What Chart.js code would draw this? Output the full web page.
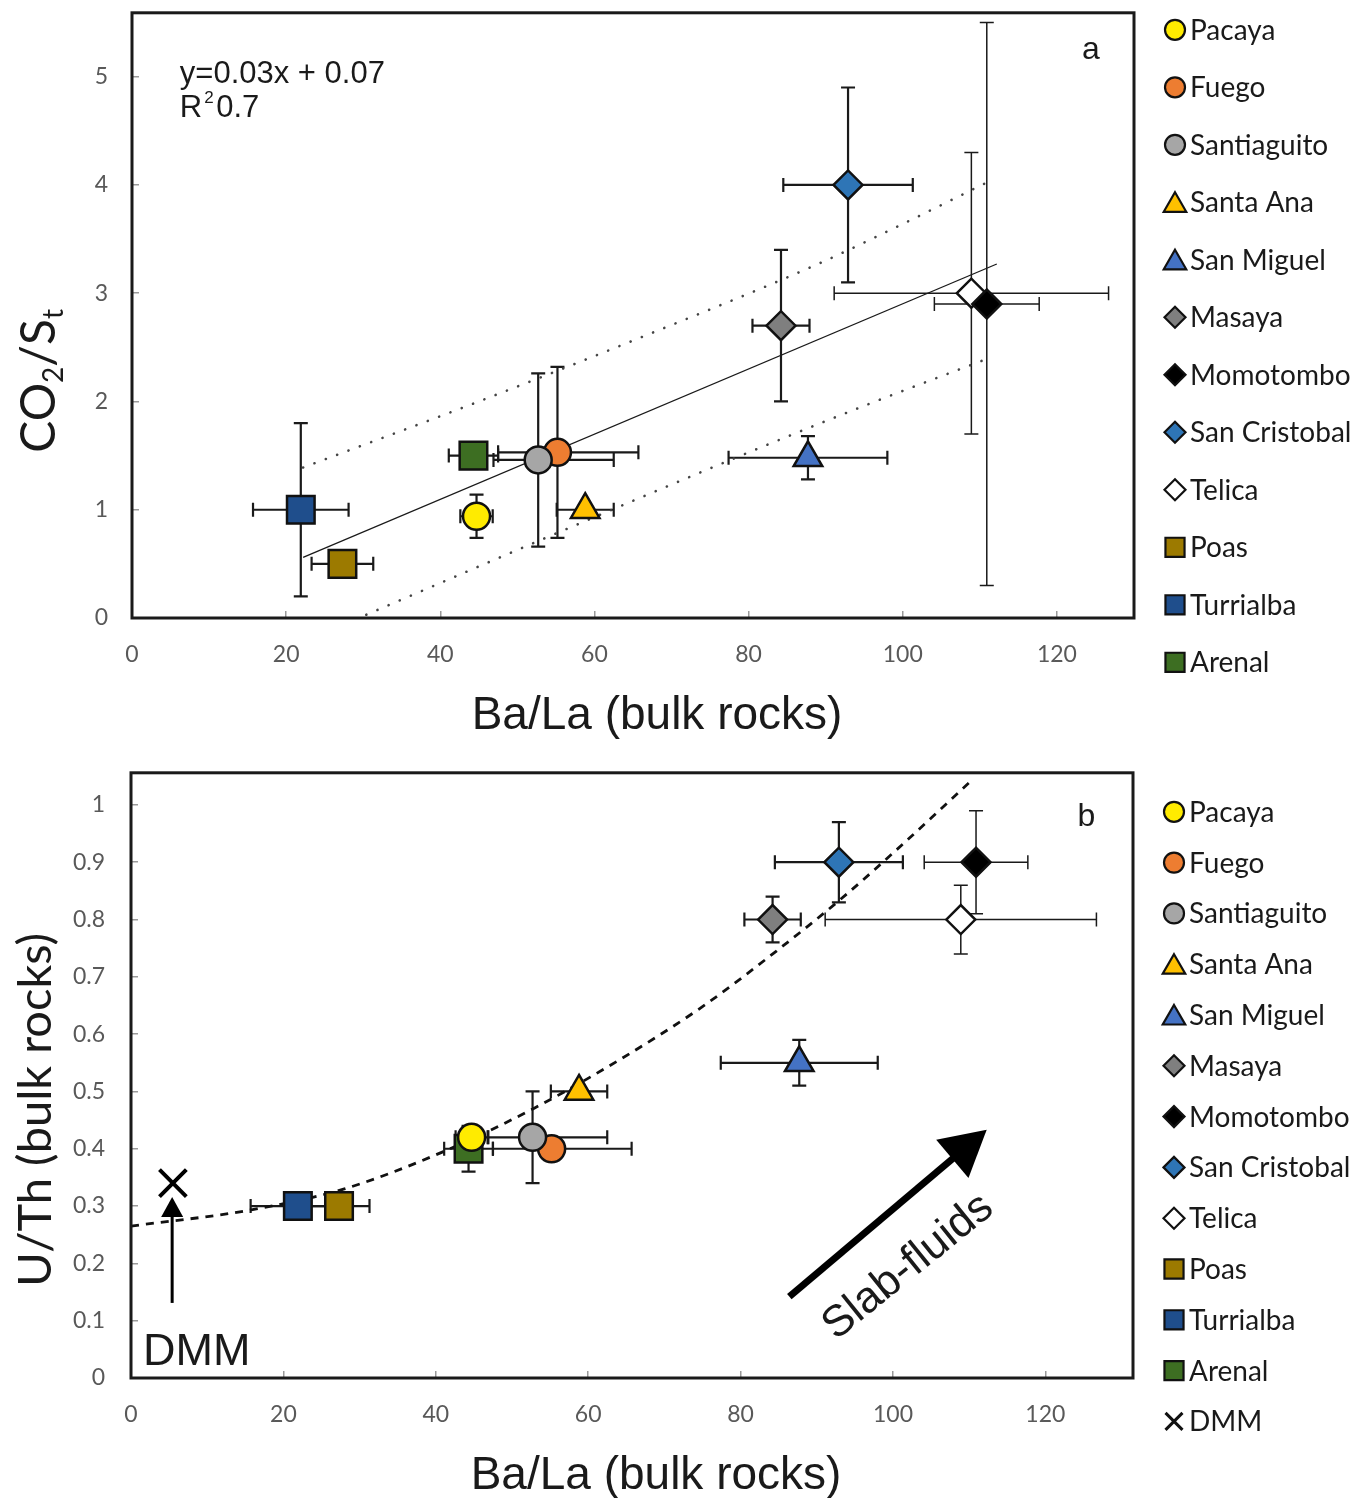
<!DOCTYPE html>
<html><head><meta charset="utf-8">
<script src="https://cdn.jsdelivr.net/npm/chart.js@4.4.1/dist/chart.umd.min.js"></script>
<style>
html,body{margin:0;padding:0;background:#fff;width:1359px;height:1498px;overflow:hidden;position:relative}
#wa{position:absolute;left:0;top:-32px;width:1359px;height:782px}
#wb{position:absolute;left:0;top:726px;width:1359px;height:772px}
</style></head><body>
<div id="wa"><canvas id="ca"></canvas></div>
<div id="wb"><canvas id="cb"></canvas></div>
<script>
// ---------------- data ----------------
const volcanoes   = ['Pacaya','Fuego','Santiaguito','Santa Ana','San Miguel','Masaya','Momotombo','San Cristobal','Telica','Poas','Turrialba','Arenal'];
const markerShapes = ['circle','circle','circle','triangle','triangle','rectRot','rectRot','rectRot','rectRot','rect','rect','rect'];
const markerColors = ['#FFEB00','#ED7D31','#A6A6A6','#FFC000','#4472C4','#7F7F7F','#000000','#2E75B6','#FFFFFF','#9C7A00','#1F4E8C','#3D6E22'];
const baLa        = [44.7, 55.2, 52.7, 58.8, 87.7, 84.2, 110.9, 92.9, 108.9, 27.3, 21.9, 44.3];
const baLaErrLow  = [2.1, 7.7, 5.8, 3.7, 10.3, 3.7, 6.8, 8.4, 17.8, 4.0, 6.2, 3.2];
const baLaErrHigh = [2.1, 10.5, 9.8, 3.7, 10.3, 3.7, 6.8, 8.4, 17.8, 4.0, 6.2, 3.2];
const co2St       = [0.94, 1.53, 1.46, 1.0, 1.48, 2.7, 2.9, 4.0, 3.0, 0.5, 1.0, 1.5];
const co2StErr    = [0.2, 0.79, 0.8, 0, 0.2, 0.7, 2.6, 0.9, 1.3, 0, 0.8, 0];
const uTh         = [0.42, 0.40, 0.42, 0.50, 0.55, 0.80, 0.90, 0.90, 0.80, 0.30, 0.30, 0.40];
const uThErr      = [0, 0, 0.08, 0, 0.04, 0.04, 0.09, 0.07, 0.06, 0, 0, 0.04];
const dmmLabel    = 'DMM';
const dmmPoint    = [5.5, 0.34];

const trendBaLa      = [22.2, 112.2];
const trendCo2St     = [0.56, 3.27];
const upperBandBaLa  = [22.2, 45, 67, 89, 100, 111.4];
const upperBandCo2St = [1.39, 2.0, 2.62, 3.27, 3.64, 4.04];
const lowerBandBaLa  = [30.4, 54, 79, 95, 110.8];
const lowerBandCo2St = [0.03, 0.75, 1.5, 1.96, 2.39];
const curveBaLa      = [0, 15.6, 28, 41, 52.8, 64.2, 75, 84.8, 93.1, 100.5, 110.1];
const curveUTh       = [0.265, 0.293, 0.33, 0.395, 0.47, 0.556, 0.648, 0.746, 0.835, 0.922, 1.04];

const xTicks  = [0, 20, 40, 60, 80, 100, 120];
const yTicksA = [0, 1, 2, 3, 4, 5];
const yTicksB = [0, 0.1, 0.2, 0.3, 0.4, 0.5, 0.6, 0.7, 0.8, 0.9, 1];

const xTitle  = 'Ba/La (bulk rocks)';
const yTitleB = 'U/Th (bulk rocks)';

// ---------------- styling helpers ----------------
const shapeRadius  = {circle: 13.5, triangle: 16.5, rectRot: 14.5, rect: 19.5, crossRot: 19};
const legendRadius = {circle: 10, triangle: 13, rectRot: 10.5, rect: 13.5, crossRot: 12};
const onTop = ['Santiaguito', 'Momotombo', 'Pacaya'];
const thinBars = ['Telica', 'Momotombo'];
const tickFont = {family: 'Lato', size: 23};
const tickColor = '#595959';
const ink = '#1a1a1a';

function drawMarker(ctx, shape, r, x, y, fill, lw) {
  ctx.save();
  ctx.fillStyle = fill; ctx.strokeStyle = '#111'; ctx.lineWidth = lw;
  Chart.helpers.drawPoint(ctx, {pointStyle: shape, radius: r, rotation: 0, borderWidth: lw}, x, y);
  ctx.restore();
}

function volcanoDatasets(yVals) {
  return volcanoes.map((name, i) => ({
    label: name,
    data: [{x: baLa[i], y: yVals[i]}],
    pointStyle: markerShapes[i],
    pointRadius: shapeRadius[markerShapes[i]],
    pointBackgroundColor: markerColors[i],
    pointBorderColor: '#111',
    pointBorderWidth: 2.5,
    order: onTop.includes(name) ? 0 : 1
  }));
}
function lineDataset(xs, ys, extra) {
  return Object.assign({
    label: '_line', data: xs.map((x, i) => ({x, y: ys[i]})), showLine: true,
    pointRadius: 0, borderColor: ink, borderWidth: 1.3, fill: false, order: 5
  }, extra);
}

function errorBars(yVals, yErr) {
  return {
    id: 'errorBars',
    beforeDatasetsDraw(chart) {
      const {ctx, scales: {x, y}} = chart;
      ctx.save();
      ctx.strokeStyle = ink;
      const cap = 7;
      volcanoes.forEach((name, i) => {
        ctx.lineWidth = thinBars.includes(name) ? 1.5 : 2.2;
        const px = x.getPixelForValue(baLa[i]);
        const py = y.getPixelForValue(yVals[i]);
        ctx.beginPath();
        if (baLaErrLow[i] > 0 || baLaErrHigh[i] > 0) {
          const x1 = x.getPixelForValue(baLa[i] - baLaErrLow[i]);
          const x2 = x.getPixelForValue(baLa[i] + baLaErrHigh[i]);
          ctx.moveTo(x1, py); ctx.lineTo(x2, py);
          ctx.moveTo(x1, py - cap); ctx.lineTo(x1, py + cap);
          ctx.moveTo(x2, py - cap); ctx.lineTo(x2, py + cap);
        }
        if (yErr[i] > 0) {
          const y1 = y.getPixelForValue(yVals[i] - yErr[i]);
          const y2 = y.getPixelForValue(yVals[i] + yErr[i]);
          ctx.moveTo(px, y1); ctx.lineTo(px, y2);
          ctx.moveTo(px - cap, y1); ctx.lineTo(px + cap, y1);
          ctx.moveTo(px - cap, y2); ctx.lineTo(px + cap, y2);
        }
        ctx.stroke();
      });
      ctx.restore();
    }
  };
}

const framePlugin = {
  id: 'frame',
  afterDatasetsDraw(chart) {
    const {ctx, chartArea: a} = chart;
    ctx.save();
    ctx.strokeStyle = ink; ctx.lineWidth = 3;
    ctx.strokeRect(a.left, a.top, a.right - a.left, a.bottom - a.top);
    ctx.restore();
  }
};

function sideLegend(items, firstOffset, step) {
  return {
    id: 'sideLegend',
    afterDraw(chart) {
      const {ctx, chartArea: a} = chart;
      ctx.save();
      items.forEach((it, k) => {
        const cy = a.top + firstOffset + k * step;
        const cx = a.right + 41;
        const dy = it.shape === 'triangle' ? 3 : 0;
        drawMarker(ctx, it.shape, legendRadius[it.shape], cx, cy + dy, it.color, it.shape === 'crossRot' ? 3 : 2.2);
        ctx.fillStyle = ink;
        ctx.font = '28px Lato';
        ctx.textBaseline = 'middle';
        ctx.textAlign = 'left';
        ctx.fillText(it.label, a.right + 56, cy + 1);
      });
      ctx.restore();
    }
  };
}

// x-axis title drawn below the axis, centred where the original places it
function xTitlePlugin(dy) {
  return {
    id: 'xTitle',
    afterDraw(chart) {
      const {ctx, chartArea: a} = chart;
      ctx.save();
      ctx.fillStyle = ink;
      ctx.font = '46px "Liberation Sans"';
      ctx.textAlign = 'center';
      ctx.textBaseline = 'middle';
      ctx.fillText(xTitle, (a.left + a.right) / 2 + 24, a.bottom + dy);
      ctx.restore();
    }
  };
}

function baseScales(xMax, yMax, yTicks, yWidth, xHeight, yPad) {
  const grid = {display: true, drawOnChartArea: false, drawTicks: true, tickLength: -7, color: '#9a9a9a', lineWidth: 1.5};
  return {
    x: {
      type: 'linear', min: 0, max: xMax,
      afterBuildTicks: s => { s.ticks = xTicks.map(v => ({value: v})); },
      afterFit: s => { s.height = xHeight; },
      grid, border: {display: false},
      ticks: {font: tickFont, color: tickColor, padding: 30, callback: v => String(v), maxRotation: 0}
    },
    y: {
      type: 'linear', min: 0, max: yMax,
      afterBuildTicks: s => { s.ticks = yTicks.map(v => ({value: v})); },
      afterFit: s => { s.width = yWidth; },
      grid, border: {display: false},
      ticks: {font: tickFont, color: tickColor, padding: yPad, callback: v => String(v)}
    }
  };
}

// ---------------- chart a ----------------
const annotA = {
  id: 'annotA',
  afterDraw(chart) {
    const {ctx, scales: {x, y}, chartArea: a} = chart;
    ctx.save();
    ctx.fillStyle = ink;
    ctx.textBaseline = 'alphabetic';
    ctx.textAlign = 'left';
    ctx.font = '31px "Liberation Sans"';
    const ex = x.getPixelForValue(6.2);
    ctx.fillText('y=0.03x + 0.07', ex, y.getPixelForValue(4.94));
    const ry = y.getPixelForValue(4.63);
    ctx.fillText('R', ex, ry);
    const rw = ctx.measureText('R').width;
    ctx.font = '17px "Liberation Sans"';
    ctx.fillText('2', ex + rw + 2, ry - 14);
    ctx.font = '31px "Liberation Sans"';
    ctx.fillText('0.7', ex + rw + 14, ry);
    ctx.font = '32px "Liberation Sans"';
    ctx.textAlign = 'center';
    ctx.fillText('a', x.getPixelForValue(124.4), y.getPixelForValue(5.16));
    // y-axis title with subscripts
    const parts = [['CO', 48], ['2', 28], ['/S', 48], ['t', 28]];
    let total = 0;
    parts.forEach(p => { ctx.font = p[1] + 'px Lato'; p.push(ctx.measureText(p[0]).width); total += p[2]; });
    ctx.translate(21, a.top + 368);
    ctx.rotate(-Math.PI / 2);
    ctx.textAlign = 'left';
    let u = -total / 2;
    parts.forEach(p => {
      ctx.font = p[1] + 'px Lato';
      ctx.fillText(p[0], u, p[1] === 48 ? 34 : 42);
      u += p[2];
    });
    ctx.restore();
  }
};

const dsA = volcanoDatasets(co2St).concat([
  lineDataset(trendBaLa, trendCo2St),
  lineDataset(upperBandBaLa, upperBandCo2St, {borderDash: [0.1, 12], borderWidth: 2.6, borderCapStyle: 'round', borderColor: '#444', cubicInterpolationMode: 'monotone'}),
  lineDataset(lowerBandBaLa, lowerBandCo2St, {borderDash: [0.1, 12], borderWidth: 2.6, borderCapStyle: 'round', borderColor: '#444', cubicInterpolationMode: 'monotone'})
]);

new Chart(document.getElementById('ca'), {
  type: 'scatter',
  data: {datasets: dsA},
  options: {
    responsive: true, maintainAspectRatio: false, animation: false, events: [],
    layout: {padding: {top: 0, right: 225, bottom: 0, left: 0}},
    plugins: {legend: {display: false}, tooltip: {enabled: false}},
    scales: baseScales(130, 5.59, yTicksA, 132, 132, 31)
  },
  plugins: [errorBars(co2St, co2StErr), framePlugin, annotA, xTitlePlugin(98),
    sideLegend(volcanoes.map((n, i) => ({label: n, shape: markerShapes[i], color: markerColors[i]})), 17, 57.5)]
});

// ---------------- chart b ----------------
function arrow(ctx, x1, y1, x2, y2, lw, headLen, headW) {
  const ang = Math.atan2(y2 - y1, x2 - x1);
  const bx = x2 - Math.cos(ang) * headLen, by = y2 - Math.sin(ang) * headLen;
  ctx.beginPath();
  ctx.lineWidth = lw;
  ctx.moveTo(x1, y1); ctx.lineTo(bx + Math.cos(ang) * 2, by + Math.sin(ang) * 2);
  ctx.stroke();
  ctx.beginPath();
  ctx.moveTo(x2, y2);
  ctx.lineTo(bx + Math.sin(ang) * headW / 2, by - Math.cos(ang) * headW / 2);
  ctx.lineTo(bx - Math.sin(ang) * headW / 2, by + Math.cos(ang) * headW / 2);
  ctx.closePath();
  ctx.fill();
}

const annotB = {
  id: 'annotB',
  afterDatasetsDraw(chart) {
    const {ctx, scales: {x, y}, chartArea: a} = chart;
    ctx.save();
    ctx.fillStyle = '#000'; ctx.strokeStyle = '#000';
    arrow(ctx, x.getPixelForValue(5.4), y.getPixelForValue(0.131), x.getPixelForValue(5.4), y.getPixelForValue(0.316), 3, 20, 22);
    arrow(ctx, x.getPixelForValue(86.4), y.getPixelForValue(0.142), x.getPixelForValue(112.3), y.getPixelForValue(0.433), 7, 45, 50);
    ctx.fillStyle = ink;
    ctx.textBaseline = 'alphabetic';
    ctx.textAlign = 'left';
    ctx.font = '45px "Liberation Sans"';
    ctx.fillText('DMM', x.getPixelForValue(1.58), y.getPixelForValue(0.023));
    ctx.font = '32px "Liberation Sans"';
    ctx.textAlign = 'center';
    ctx.fillText('b', x.getPixelForValue(125.4), y.getPixelForValue(0.963));
    ctx.save();
    ctx.translate(x.getPixelForValue(102.0), y.getPixelForValue(0.194));
    ctx.rotate(-39 * Math.PI / 180);
    ctx.font = '44px "Liberation Sans"';
    ctx.textBaseline = 'middle';
    ctx.fillText('Slab-fluids', 0, 0);
    ctx.restore();
    // y-axis title
    ctx.translate(36, a.top + 337);
    ctx.rotate(-Math.PI / 2);
    ctx.font = '47px Lato';
    ctx.textAlign = 'center';
    ctx.textBaseline = 'middle';
    ctx.fillText(yTitleB, 0, 0);
    ctx.restore();
  }
};

const dsB = volcanoDatasets(uTh).concat([
  {label: dmmLabel, data: [{x: dmmPoint[0], y: dmmPoint[1]}], pointStyle: 'crossRot', pointRadius: 19,
   pointBorderColor: '#000', pointBorderWidth: 4, pointBackgroundColor: '#000', order: 0},
  lineDataset(curveBaLa, curveUTh, {borderDash: [8, 7], borderWidth: 2.8, borderColor: '#111', cubicInterpolationMode: 'monotone'})
]);

new Chart(document.getElementById('cb'), {
  type: 'scatter',
  data: {datasets: dsB},
  options: {
    responsive: true, maintainAspectRatio: false, animation: false, events: [],
    layout: {padding: {top: 0, right: 226, bottom: 0, left: 0}},
    plugins: {legend: {display: false}, tooltip: {enabled: false}},
    scales: baseScales(131.5, 1.056, yTicksB, 131, 120, 33)
  },
  plugins: [errorBars(uTh, uThErr), framePlugin, annotB, xTitlePlugin(98),
    sideLegend(volcanoes.map((n, i) => ({label: n, shape: markerShapes[i], color: markerColors[i]}))
      .concat([{label: dmmLabel, shape: 'crossRot', color: '#000'}]), 39, 50.8)]
});
</script>
</body></html>
